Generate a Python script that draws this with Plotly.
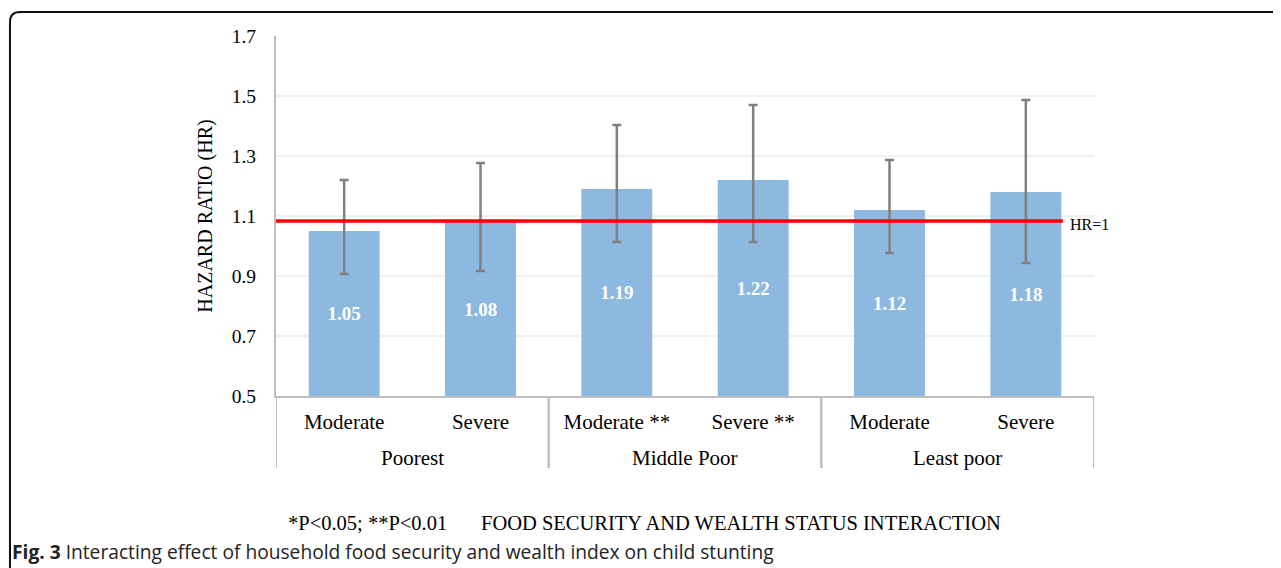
import plotly.graph_objects as go

# data
wealth = ["Poorest", "Poorest", "Middle Poor", "Middle Poor", "Least poor", "Least poor"]
food = ["Moderate", "Severe", "Moderate **", "Severe **", "Moderate", "Severe"]
hr = [1.05, 1.08, 1.19, 1.22, 1.12, 1.18]
ci_low = [0.907, 0.917, 1.013, 1.013, 0.977, 0.943]
ci_high = [1.22, 1.277, 1.403, 1.47, 1.287, 1.487]
hr_line = 1.083
y_ticks = [0.5, 0.7, 0.9, 1.1, 1.3, 1.5, 1.7]

base = 0.5
serif = "Liberation Serif"
idx = list(range(len(food)))

fig = go.Figure()
fig.add_trace(go.Bar(
    x=idx,
    y=[v - base for v in hr],
    base=base,
    width=0.52,
    marker=dict(color="#8db8e0", line=dict(width=0)),
    text=[f"{v:.2f}" for v in hr],
    textposition="inside",
    insidetextanchor="middle",
    textfont=dict(family=serif, size=19, color="white", weight="bold"),
    error_y=dict(
        type="data", symmetric=False,
        array=[h - v for h, v in zip(ci_high, hr)],
        arrayminus=[v - l for v, l in zip(hr, ci_low)],
        color="#808080", thickness=2.5, width=4.5,
    ),
    hovertext=[f"{w} / {f}" for w, f in zip(wealth, food)],
    showlegend=False,
))

# wealth group labels and dividers under the axis
groups = list(dict.fromkeys(wealth))
for g in groups:
    pos = [i for i, w in enumerate(wealth) if w == g]
    fig.add_annotation(text=g, xref="x", yref="paper", x=sum(pos) / len(pos), y=-0.172,
                       yanchor="middle", showarrow=False,
                       font=dict(family=serif, size=21, color="black"))
    for edge in (min(pos) - 0.5, max(pos) + 0.5):
        fig.add_shape(type="line", xref="x", yref="paper", x0=edge, x1=edge, y0=0, y1=-0.2,
                      line=dict(color="#bfbfbf", width=2))

# HR = 1 reference line
fig.add_shape(type="line", xref="paper", yref="y", x0=0, x1=0.962,
              y0=hr_line, y1=hr_line, line=dict(color="#ff0000", width=3.5))
fig.add_annotation(text="HR=1", xref="paper", yref="y", x=0.968, y=hr_line,
                   xanchor="left", yanchor="middle", yshift=-3, showarrow=False,
                   font=dict(family=serif, size=16, color="black"))

# footer texts
fig.add_annotation(text="*P&lt;0.05; **P&lt;0.01", xref="paper", yref="paper",
                   x=0.0122, y=-0.353, xanchor="left", yanchor="middle", showarrow=False,
                   font=dict(family=serif, size=20.5, color="black"))
fig.add_annotation(text="FOOD SECURITY AND WEALTH STATUS INTERACTION", xref="paper", yref="paper",
                   x=0.2482, y=-0.353, xanchor="left", yanchor="middle", showarrow=False,
                   font=dict(family=serif, size=20.5, color="black"))
fig.add_annotation(text="<b>Fig. 3</b> Interacting effect of household food security and wealth index on child stunting",
                   xref="paper", yref="paper", x=-0.3252, y=-0.4306, xanchor="left", yanchor="middle",
                   showarrow=False, font=dict(family="Open Sans", size=19.2, color="#222222"))

# figure frame (rounded top-left corner)
fig.add_shape(type="path", xref="paper", yref="paper",
              path="M -0.3252,-0.52 L -0.3252,1.0389 Q -0.3252,1.0667 -0.313,1.0667 L 1.25,1.0667",
              line=dict(color="#111111", width=2))

# page body has an 8px margin, so the figure is 8px smaller than the window
fig.update_layout(
    width=1273, height=560,
    margin=dict(l=268, r=187, t=28, b=172),
    plot_bgcolor="white", paper_bgcolor="white",
    font=dict(family=serif, color="black"),
)
fig.update_xaxes(
    range=[-0.5, len(food) - 0.5],
    tickvals=idx, ticktext=food,
    showline=True, linecolor="#bfbfbf", linewidth=2,
    ticks="", ticklabelstandoff=6,
    tickfont=dict(family=serif, size=21, color="black"),
    showgrid=False, zeroline=False,
)
fig.update_yaxes(
    range=[0.5, 1.7], tickvals=y_ticks, ticktext=[f"{t:.1f}" for t in y_ticks],
    showgrid=True, gridcolor="#f0f0f0", gridwidth=1.5,
    showline=True, linecolor="#bfbfbf", linewidth=2,
    zeroline=False, ticks="", ticklabelstandoff=14,
    tickfont=dict(family=serif, size=19.5, color="black"),
    title=dict(text="HAZARD RATIO (HR)", standoff=14,
               font=dict(family=serif, size=20, color="black")),
)

fig.write_html("out.html")
